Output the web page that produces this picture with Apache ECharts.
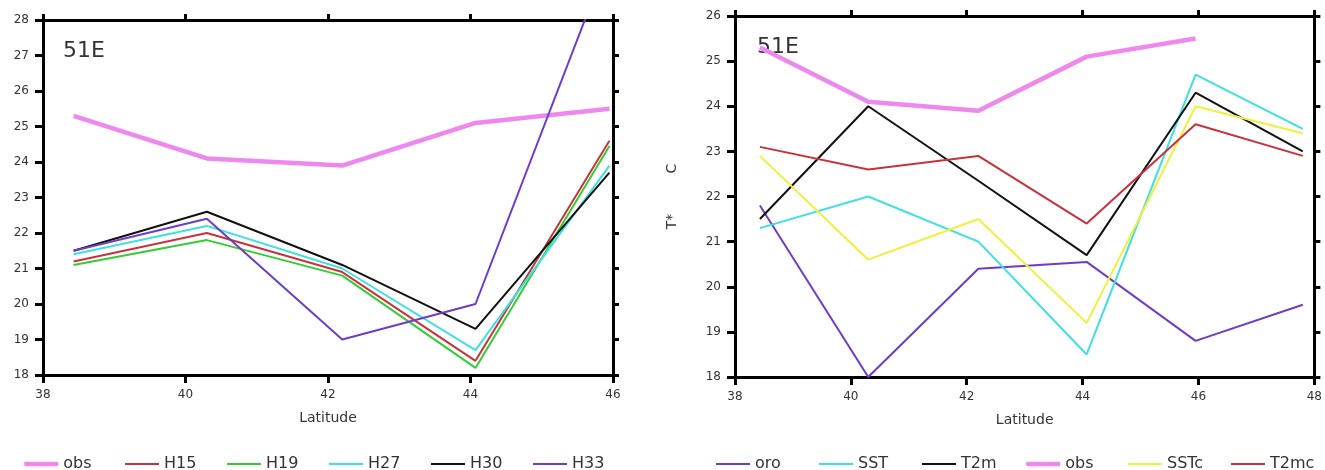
<!DOCTYPE html>
<html>
<head>
<meta charset="utf-8">
<script src="https://cdn.jsdelivr.net/npm/echarts@6/dist/echarts.min.js"></script>
<style>
  html, body { margin: 0; padding: 0; background: #fff; }
  #main { width: 1325px; height: 470px; }
</style>
</head>
<body>
<div id="main"></div>
<script>
// latitude of each model point
var latLeft = [38.43, 40.3, 42.2, 44.07, 45.95];
var latRight = [38.43, 40.3, 42.2, 44.07, 45.95, 47.8];

// left panel
var leftNames = ['obs', 'H15', 'H19', 'H27', 'H30', 'H33'];
var obsL = [25.3, 24.1, 23.9, 25.1, 25.5];
var h15 = [21.2, 22.0, 20.9, 18.4, 24.6];
var h19 = [21.1, 21.8, 20.8, 18.2, 24.45];
var h27 = [21.4, 22.2, 21.0, 18.7, 23.9];
var h30 = [21.5, 22.6, 21.1, 19.3, 23.7];
var h33 = [21.5, 22.4, 19.0, 20.0, 29.8];

// right panel
var rightNames = ['oro', 'SST', 'T2m', 'obs', 'SSTc', 'T2mc'];
var oro = [21.8, 18.0, 20.4, 20.55, 18.8, 19.6];
var sst = [21.3, 22.0, 21.0, 18.5, 24.7, 23.5];
var t2m = [21.5, 24.0, 22.35, 20.7, 24.3, 23.0];
var obsR = [25.3, 24.1, 23.9, 25.1, 25.5];
var sstc = [22.9, 20.6, 21.5, 19.2, 24.0, 23.4];
var t2mc = [23.1, 22.6, 22.9, 21.4, 23.6, 22.9];

var colors = {
  obs: '#ee88ee', H15: '#c8323c', H19: '#33cc33', H27: '#3fe0e0', H30: '#111111', H33: '#6e3cc8',
  oro: '#6e3cc8', SST: '#3fe0e0', T2m: '#111111', SSTc: '#f0f03c', T2mc: '#c8323c'
};

function pairs(xs, ys) {
  var res = [];
  for (var i = 0; i < ys.length; i++) {
    res.push([xs[i], ys[i]]);
  }
  return res;
}

function lineWidth(name) {
  return name == 'obs' ? 4.5 : 2;
}

function mkLine(name, xs, ys, grid) {
  return {
    name: name,
    type: 'line',
    xAxisIndex: grid * 2,
    yAxisIndex: grid * 2,
    symbol: 'none',
    data: pairs(xs, ys),
    lineStyle: { color: colors[name], width: lineWidth(name) },
    itemStyle: { color: colors[name] },
    z: name == 'obs' ? 1 : 2
  };
}

var font = 'DejaVu Sans';
var axisLine = { show: true, lineStyle: { color: '#000', width: 3 } };

function bottomAxis(grid, max) {
  return {
    type: 'value', gridIndex: grid, position: 'bottom', min: 38, max: max, interval: 2,
    name: 'Latitude', nameLocation: 'middle', nameGap: 36,
    nameTextStyle: { fontFamily: font, fontSize: 14, color: '#333' },
    axisLine: axisLine,
    axisTick: { show: true, length: 8, lineStyle: { color: '#000', width: 3 } },
    axisLabel: { fontFamily: font, fontSize: 12, color: '#333', margin: 14 },
    splitLine: { show: false }
  };
}
function topAxis(grid, max) {
  return {
    type: 'value', gridIndex: grid, position: 'top', min: 38, max: max, interval: 2,
    axisLine: axisLine,
    axisTick: { show: true, length: 6, lineStyle: { color: '#000', width: 3 } },
    axisLabel: { show: false },
    splitLine: { show: false }
  };
}
function leftAxis(grid, max, name) {
  return {
    type: 'value', gridIndex: grid, position: 'left', min: 18, max: max, interval: 1,
    name: name, nameLocation: 'middle', nameGap: 56, nameRotate: 90,
    nameTextStyle: { fontFamily: font, fontSize: 14, color: '#333' },
    axisLine: axisLine,
    axisTick: { show: true, length: 8, lineStyle: { color: '#000', width: 3 } },
    axisLabel: { fontFamily: font, fontSize: 12, color: '#333', margin: 14 },
    splitLine: { show: false }
  };
}
function rightAxis(grid, max) {
  return {
    type: 'value', gridIndex: grid, position: 'right', min: 18, max: max, interval: 1,
    axisLine: axisLine,
    axisTick: { show: true, length: 6, lineStyle: { color: '#000', width: 3 } },
    axisLabel: { show: false },
    splitLine: { show: false }
  };
}

// one legend per entry so the spacing matches the plot
var legends = [];
function addLegends(names, start, step) {
  for (var i = 0; i < names.length; i++) {
    legends.push({
      data: [names[i]],
      left: start + i * step, top: 456,
      padding: 0,
      itemWidth: 34, itemHeight: 14,
      itemStyle: { color: 'transparent', borderColor: 'transparent', borderWidth: 0 },
      lineStyle: { width: lineWidth(names[i]) },
      textStyle: { fontFamily: font, fontSize: 16, color: '#333' }
    });
  }
}
addLegends(leftNames, 22, 102);
addLegends(rightNames, 715, 103);

var chart = echarts.init(document.getElementById('main'));
var option = {
  backgroundColor: '#fff',
  animation: false,
  grid: [
    { left: 43, top: 20, width: 570, height: 355 },
    { left: 735, top: 16, width: 581, height: 361 }
  ],
  xAxis: [bottomAxis(0, 46), topAxis(0, 46), bottomAxis(1, 48), topAxis(1, 48)],
  yAxis: [leftAxis(0, 28, ''), rightAxis(0, 28), leftAxis(1, 26, 'T*         C'), rightAxis(1, 26)],
  legend: legends,
  graphic: [
    { type: 'text', left: 63, top: 40, style: { text: '51E', font: '22px "DejaVu Sans"', fill: '#333' } },
    { type: 'text', left: 757, top: 36, style: { text: '51E', font: '22px "DejaVu Sans"', fill: '#333' } }
  ],
  series: [
    mkLine('obs', latLeft, obsL, 0),
    mkLine('H15', latLeft, h15, 0),
    mkLine('H19', latLeft, h19, 0),
    mkLine('H27', latLeft, h27, 0),
    mkLine('H30', latLeft, h30, 0),
    mkLine('H33', latLeft, h33, 0),
    mkLine('oro', latRight, oro, 1),
    mkLine('SST', latRight, sst, 1),
    mkLine('T2m', latRight, t2m, 1),
    mkLine('obs', latRight, obsR, 1),
    mkLine('SSTc', latRight, sstc, 1),
    mkLine('T2mc', latRight, t2mc, 1)
  ]
};
chart.setOption(option);
</script>
</body>
</html>
